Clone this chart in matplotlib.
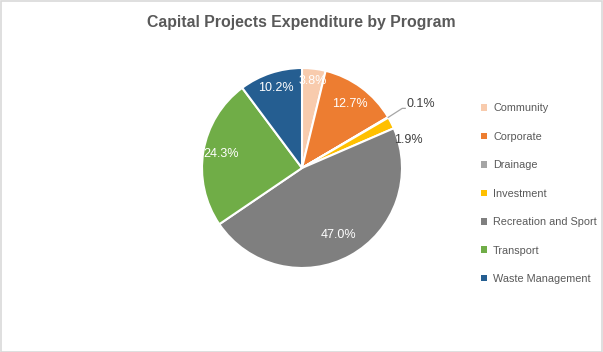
import numpy as np
import matplotlib
matplotlib.use("Agg")
import matplotlib.pyplot as plt
from matplotlib.patches import Patch, Rectangle

programs = ["Community", "Corporate", "Drainage", "Investment",
            "Recreation and Sport", "Transport", "Waste Management"]
shares = [3.8, 12.7, 0.1, 1.9, 47.0, 24.3, 10.2]
colors = ["#F8CBAD", "#ED7D31", "#A5A5A5", "#FFC000",
          "#7F7F7F", "#70AD47", "#255E91"]

plt.rcParams["font.family"] = ["Liberation Sans", "DejaVu Sans"]

fig = plt.figure(figsize=(6.03, 3.52), dpi=100)
fig.add_artist(Rectangle((0.001, 0.001), 0.997, 0.996, transform=fig.transFigure,
                         fill=False, edgecolor="#D9D9D9", linewidth=1.2))
fig.text(0.5, 0.935, "Capital Projects Expenditure by Program", ha="center",
         va="center", fontsize=11.4, fontweight="bold", color="#595959")

ax = fig.add_axes([202 / 603, 84 / 352, 200 / 603, 200 / 352])
wedges, _ = ax.pie(shares, colors=colors, startangle=90, counterclock=False,
                   radius=1.0, wedgeprops=dict(edgecolor="white", linewidth=1.5))
ax.set_xlim(-1, 1)
ax.set_ylim(-1, 1)
ax.set_aspect("equal")

# label radius per wedge (inside labels); None -> label outside the pie
label_r = [0.88, 0.80, None, None, 0.76, 0.82, 0.84]
for w, v, r in zip(wedges, shares, label_r):
    ang = np.deg2rad((w.theta1 + w.theta2) / 2)
    txt = f"{v:.1f}%"
    if r is not None:
        ax.text(r * np.cos(ang), r * np.sin(ang), txt, ha="center", va="center",
                fontsize=9, color="white")
    elif v < 1:
        x0, y0 = np.cos(ang), np.sin(ang)
        ax.plot([x0, x0 + 0.14, x0 + 0.17], [y0, y0 + 0.09, y0 + 0.09],
                color="#A6A6A6", lw=0.9, clip_on=False)
        ax.text(x0 + 0.18, y0 + 0.13, txt, ha="left", va="center", fontsize=9,
                color="#404040")
    else:
        ax.text(1.06, 0.28, txt, ha="center", va="center", fontsize=9,
                color="#404040")

handles = [Patch(facecolor=c, edgecolor="none") for c in colors]
fig.legend(handles, programs, loc="upper left", bbox_to_anchor=(0.797, 0.706),
           frameon=False, fontsize=7.8, handlelength=0.55, handleheight=0.55,
           handletextpad=0.6, labelspacing=1.7, labelcolor="#595959",
           borderpad=0, borderaxespad=0)

fig.savefig("out.png", dpi=100)
